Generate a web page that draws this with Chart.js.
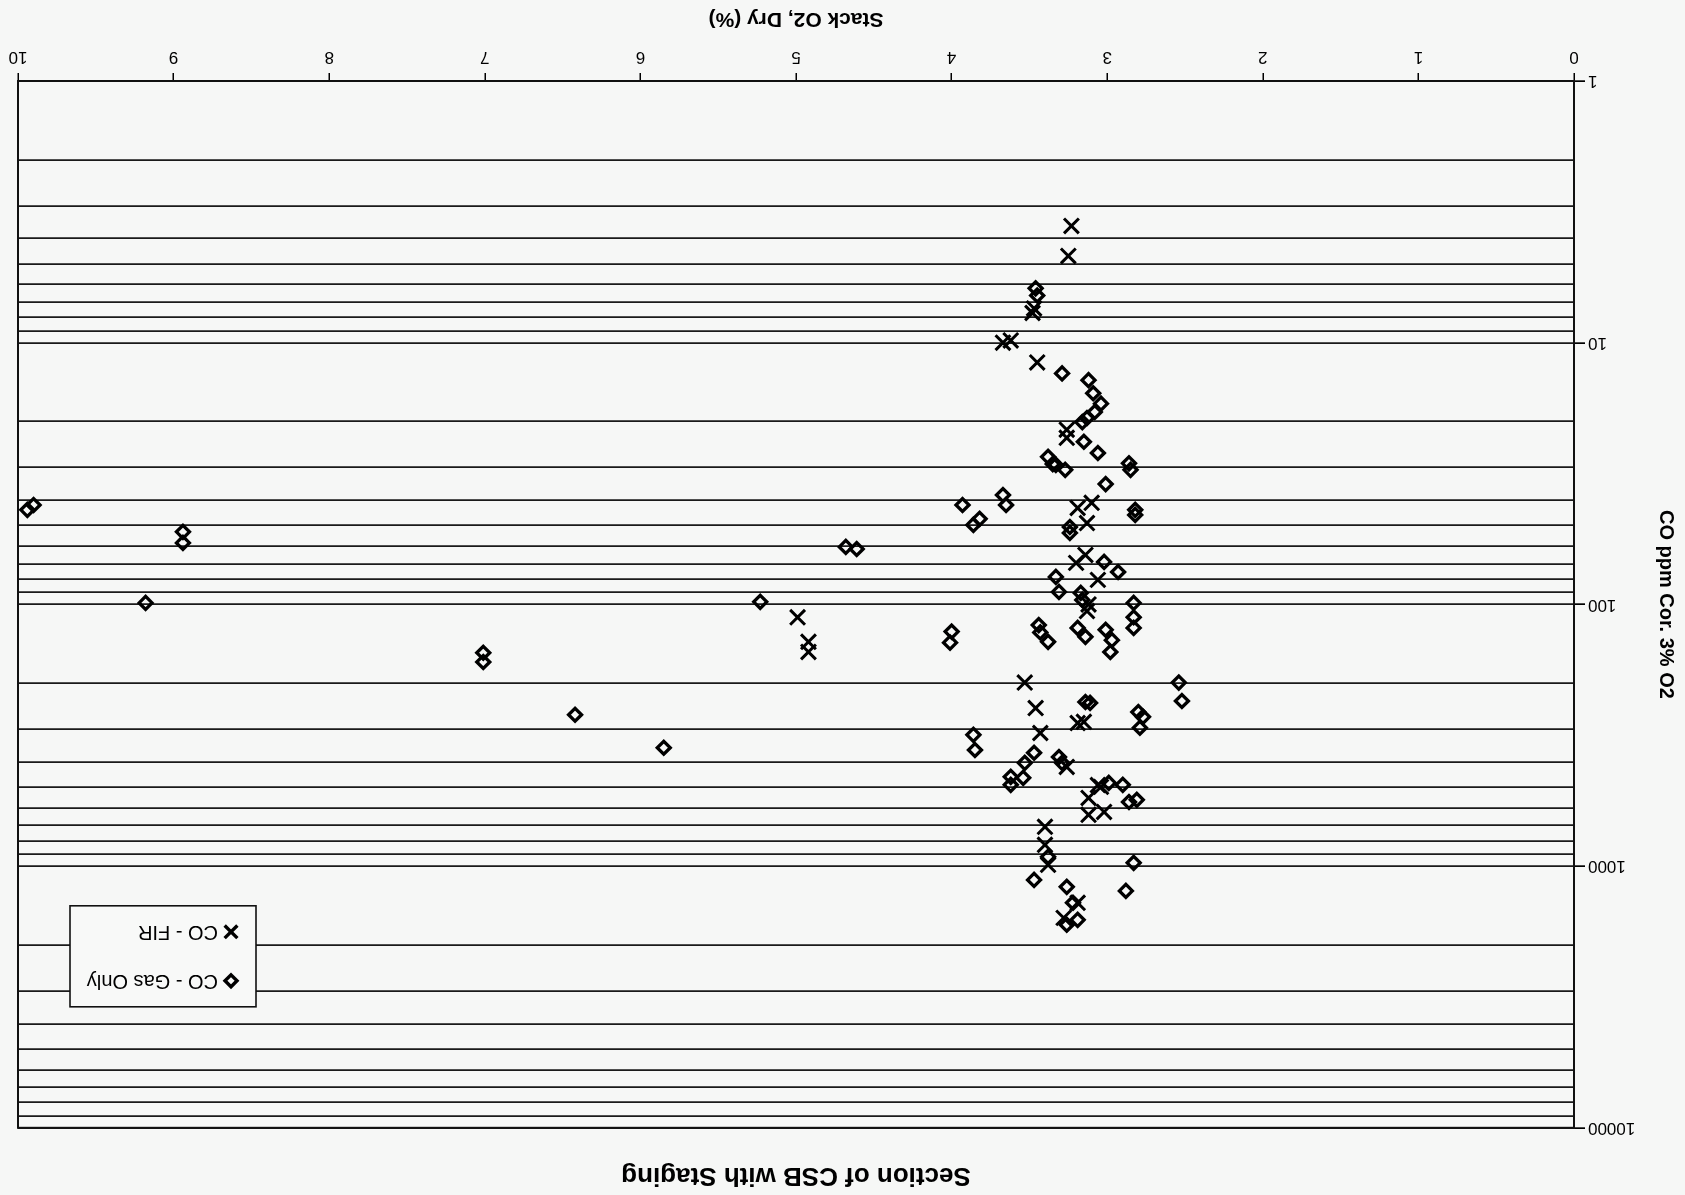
<!DOCTYPE html>
<html>
<head>
<meta charset="utf-8">
<title>Section of CSB with Staging</title>
<script src="https://cdn.jsdelivr.net/npm/chart.js@4.4.1/dist/chart.umd.min.js"></script>
<style>
  html, body { margin: 0; padding: 0; background: #f6f7f6; overflow: hidden; }
  /* la hoja escaneada está al revés: se gira todo el gráfico 180° */
  #wrap { width: 1685px; height: 1195px; transform: rotate(180deg); transform-origin: 50% 50%; }
  canvas { display: block; }
</style>
</head>
<body>
<div id="wrap"><canvas id="chartCSB" width="1685" height="1195"></canvas></div>
<script>
/* DATOS */
const gasO2 = [3.46, 3.45, 3.29, 3.12, 3.09, 3.04, 3.08, 3.13, 3.16, 3.15,
  3.06, 3.38, 3.33, 3.27, 3.35, 2.85, 2.86, 3.01, 3.93, 3.67,
  3.65, 3.86, 3.82, 2.82, 2.82, 3.24, 3.24, 4.68, 4.61, 3.02,
  2.93, 3.33, 3.31, 3.17, 3.16, 2.83, 2.83, 2.83, 5.23, 9.18,
  9.94, 9.90, 8.94, 8.94, 4.00, 4.01, 3.44, 3.43, 3.38, 3.19,
  3.14, 3.01, 2.97, 2.98, 7.01, 7.01, 2.54, 2.52, 3.14, 3.11,
  2.80, 2.77, 2.79, 6.42, 3.86, 3.85, 5.85, 3.47, 3.53, 3.62,
  3.62, 3.54, 3.31, 3.29, 2.99, 2.90, 2.86, 2.81, 3.38, 2.83,
  3.47, 3.26, 2.88, 3.22, 3.19, 3.26];
const gasCO = [6.2, 6.6, 13.1, 13.9, 15.6, 17.1, 18.4, 19.4, 20.1, 23.9,
  26.4, 27.3, 29.3, 30.6, 29.1, 30.6, 28.9, 34.7, 41.7, 38.2,
  41.7, 49.7, 47.1, 43.5, 45.5, 50.6, 53.3, 60.3, 61.4, 68.8,
  75.2, 78.5, 89.6, 90.4, 96.1, 98.7, 112, 123, 97.8, 98.7,
  43.5, 41.7, 52.8, 58.2, 127, 140, 120, 128, 139, 123,
  133, 125, 137, 152, 153, 166, 199, 234, 236, 238,
  258, 269, 296, 264, 315, 360, 353, 369, 403, 456,
  489, 460, 383, 403, 481, 489, 569, 558, 922, 972,
  1129, 1200, 1244, 1381, 1604, 1675];

const firO2 = [3.23, 3.25, 3.47, 3.48, 3.67, 3.62, 3.45, 3.26, 3.26, 3.19,
  3.10, 3.13, 3.14, 3.20, 3.06, 3.12, 3.13, 4.99, 4.92, 4.92,
  3.53, 3.46, 3.19, 3.15, 3.43, 3.26, 3.06, 3.04, 3.12, 3.12,
  3.02, 3.40, 3.40, 3.38, 3.19, 3.28];
const firCO = [3.58, 4.66, 7.4, 7.7, 10.0, 9.8, 11.9, 21.5, 23.1, 42.8,
  40.9, 48.9, 64.7, 69.4, 80.6, 100, 106, 112, 139, 152,
  199, 249, 284, 281, 310, 418, 490, 498, 549, 637,
  621, 708, 829, 989, 1381, 1577];

const yMajorTicks = [1, 10, 100, 1000, 10000];
const yMinorSteps = [2, 3, 4, 5, 6, 7, 8, 9];
const xTicks = [0, 1, 2, 3, 4, 5, 6, 7, 8, 9, 10];

const FONT = "'Liberation Sans', Arial, sans-serif";

// líneas de la rejilla en 1..9 de cada década
function valoresRejilla() {
  const vals = [];
  yMajorTicks.forEach((d, i) => {
    vals.push(d);
    if (i < yMajorTicks.length - 1) yMinorSteps.forEach(s => vals.push(d * s));
  });
  return vals;
}

/* LEYENDA CON MARCO DENTRO DEL ÁREA */
const leyendaCaja = {
  id: 'leyendaCaja',
  afterDraw(chart) {
    const { ctx, chartArea } = chart;
    const w = 186, h = 101;
    const x0 = chartArea.right - 52 - w;
    const y0 = chartArea.top + 121;
    ctx.save();
    ctx.fillStyle = '#f8f9f8';
    ctx.strokeStyle = '#111';
    ctx.lineWidth = 1.6;
    ctx.fillRect(x0, y0, w, h);
    ctx.strokeRect(x0, y0, w, h);
    ctx.font = '20px ' + FONT;
    ctx.textBaseline = 'middle';
    chart.data.datasets.forEach((ds, i) => {
      const cy = y0 + 26 + i * 49;
      ctx.fillStyle = '#f8f9f8';
      ctx.strokeStyle = '#000';
      ctx.lineWidth = 3.4;
      Chart.helpers.drawPoint(ctx, {
        pointStyle: ds.pointStyle,
        radius: i === 0 ? 6 : 9,
        borderWidth: 3.4,
      }, x0 + 25, cy);
      ctx.fillStyle = '#000';
      ctx.fillText(ds.label, x0 + 38, cy);
    });
    ctx.restore();
  },
};

/* MARCO DEL ÁREA DE TRAZADO */
const marcoArea = {
  id: 'marcoArea',
  beforeDatasetsDraw(chart) {
    const { ctx, chartArea } = chart;
    ctx.save();
    ctx.strokeStyle = '#111';
    ctx.lineWidth = 2;
    ctx.strokeRect(chartArea.left, chartArea.top, chartArea.width, chartArea.height);
    ctx.restore();
  },
};

/* GRÁFICA: CO vs O2 */
function renderChartCSB() {
  const ctx = document.getElementById('chartCSB').getContext('2d');
  const rejilla = valoresRejilla();

  window.chartCSB = new Chart(ctx, {
    type: 'scatter',
    data: {
      datasets: [
        {
          label: 'CO - Gas Only',
          data: gasO2.map((x, i) => ({ x, y: gasCO[i] })),
          pointStyle: 'rectRot',
          pointRadius: 6.5,
          pointHoverRadius: 6.5,
          borderWidth: 3.3,
          borderColor: '#000',
          backgroundColor: 'rgba(0,0,0,0)',
        },
        {
          label: 'CO - FIR',
          data: firO2.map((x, i) => ({ x, y: firCO[i] })),
          pointStyle: 'crossRot',
          pointRadius: 10.5,
          pointHoverRadius: 10.5,
          borderWidth: 3,
          borderColor: '#000',
          backgroundColor: '#000',
        },
      ],
    },
    options: {
      responsive: false,
      animation: false,
      layout: { padding: { left: 0, right: 18, top: 0, bottom: 0 } },
      plugins: {
        legend: { display: false },
        tooltip: { enabled: false },
        title: {
          display: true,
          fullSize: false,
          text: 'Section of CSB with Staging',
          color: '#000',
          font: { family: FONT, size: 26, weight: 'bold' },
          padding: { top: 4, bottom: 32 },
        },
      },
      scales: {
        x: {
          type: 'linear',
          position: 'bottom',
          min: 0,
          max: 10,
          afterBuildTicks: (axis) => { axis.ticks = xTicks.map(v => ({ value: v })); },
          afterFit: (axis) => { axis.height = 81; },
          grid: { drawOnChartArea: false, color: '#000', tickLength: 8, lineWidth: 1.5 },
          border: { color: '#111', width: 2 },
          ticks: { color: '#000', font: { family: FONT, size: 17 }, padding: 6, maxRotation: 0 },
          title: {
            display: true,
            text: 'Stack O2, Dry (%)',
            color: '#000',
            font: { family: FONT, size: 21, weight: 'bold' },
            padding: { top: 0, bottom: 6 },
          },
        },
        y: {
          type: 'logarithmic',
          position: 'left',
          min: 1,
          max: 10000,
          afterBuildTicks: (axis) => {
            axis.ticks = rejilla.map(v => ({ value: v, major: yMajorTicks.includes(v) }));
          },
          afterFit: (axis) => { axis.width = 111; },
          grid: {
            color: '#1a1a1a',
            lineWidth: 1.7,
            tickLength: 11,
            tickColor: (c) => (c.tick && yMajorTicks.includes(c.tick.value) ? '#000' : 'rgba(0,0,0,0)'),
          },
          border: { color: '#111', width: 2 },
          ticks: {
            autoSkip: false,
            color: '#000',
            font: { family: FONT, size: 17 },
            padding: 3,
            callback: (v) => (yMajorTicks.includes(v) ? String(v) : ''),
          },
          title: {
            display: true,
            text: 'CO ppm Cor. 3% O2',
            color: '#000',
            font: { family: FONT, size: 20, weight: 'bold' },
            padding: { top: 7, bottom: 0 },
          },
        },
      },
    },
    plugins: [marcoArea, leyendaCaja],
  });
}

/* INIT */
renderChartCSB();
</script>
</body>
</html>
